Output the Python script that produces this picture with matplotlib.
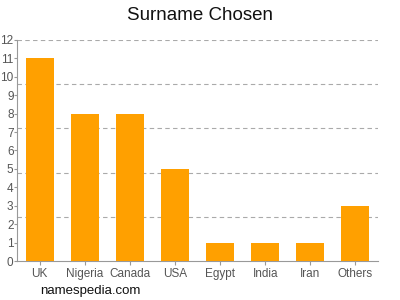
import matplotlib.pyplot as plt
import numpy as np

plt.rcParams["font.family"] = ["Liberation Sans", "DejaVu Sans"]

countries = ["UK", "Nigeria", "Canada", "USA", "Egypt", "India", "Iran", "Others"]
counts = [11, 8, 8, 5, 1, 1, 1, 3]
y_ticks = list(range(0, 13))
grid_levels = [2.4, 4.8, 7.2, 9.6, 12]

fig = plt.figure(figsize=(4, 3), dpi=100)
ax = fig.add_axes([0.0425, 0.13, 0.9025, 0.7367])

x = np.arange(len(countries))
ax.bar(x, counts, width=0.62, color="#FFA000", zorder=3)

for g in grid_levels:
    ax.axhline(g, color="#aaaaaa", linestyle=(0, (4, 3)), linewidth=0.8, zorder=1)

ax.set_xlim(-0.5, len(countries) - 0.5)
ax.set_ylim(0, 12)
ax.set_xticks(x)
ax.set_xticklabels(countries)
ax.set_yticks(y_ticks)
ax.tick_params(axis="both", colors="#999999", labelcolor="#555555", labelsize=8.5,
               length=3, width=0.8)
ax.tick_params(axis="y", pad=0.5, length=2)
ax.tick_params(axis="x", pad=2)

for side in ["top", "right"]:
    ax.spines[side].set_visible(False)
for side in ["left", "bottom"]:
    ax.spines[side].set_color("#999999")
    ax.spines[side].set_linewidth(0.8)

fig.text(0.5, 0.95, "Surname Chosen", ha="center", va="center", fontsize=13.5,
         color="#111111")
fig.text(0.1, 0.03, "namespedia.com", ha="left", va="center", fontsize=9.5,
         color="#111111")

plt.savefig("out.png")
